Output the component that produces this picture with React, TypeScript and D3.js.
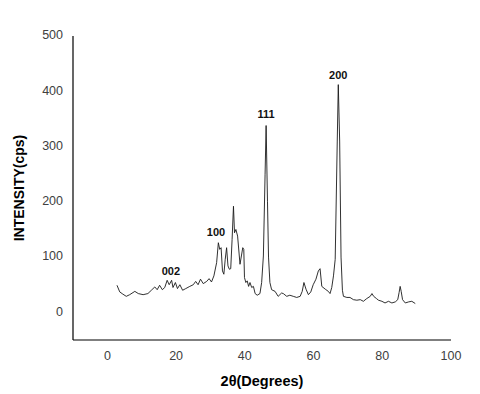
import React from "react";
import * as d3 from "d3";

// 2-theta (degrees) and intensity (cps)
const twoTheta = [
  2.8, 3.6, 4.5, 5.5, 6.5, 8, 9, 10.4, 11.8, 12.8, 13.8, 14.5, 15.2, 16, 16.7, 17.4, 18, 18.7, 19.1, 19.8,
  20.4, 21.1, 21.9, 22.8, 24, 25, 25.7, 26.4, 27.1, 27.9, 28.9, 29.6, 30.3, 31, 31.8, 32.3, 32.7, 33.1, 33.5, 33.9,
  34.3, 34.7, 35.1, 35.5, 35.9, 36.3, 36.7, 37, 37.4, 37.9, 38.6, 39, 39.4, 39.7, 39.9, 40.3, 40.7, 41.1, 41.5, 42,
  42.5, 43, 43.6, 44.4, 44.9, 45.4, 45.9, 46.2, 46.6, 46.9, 47.3, 47.8, 48.8, 49.7, 50.7, 51.2, 52.2, 53.1, 54.1, 55.1,
  56.1, 56.7, 57.2, 57.8, 58.5, 59.2, 59.9, 60.7, 61.4, 61.9, 62.4, 63.4, 64.3, 64.8, 65.3, 65.8, 66.3, 66.9, 67.2, 67.6,
  68, 68.4, 68.7, 69.7, 70.6, 71.6, 72.6, 73.6, 74.5, 75.5, 76.5, 77, 77.5, 78.3, 78.9, 79.9, 80.8, 81.8, 82.8, 83.8,
  84.5, 84.9, 85.2, 85.5, 85.9, 86.7, 87.7, 88.6, 89.6,
];
const intensity = [
  49, 37, 33, 29, 32, 38, 34, 32, 34, 40, 46, 41, 49, 41, 45, 58, 50, 58, 45, 54,
  43, 50, 40, 43, 47, 50, 56, 50, 60, 52, 56, 61, 55, 66, 90, 126, 114, 117, 75, 69,
  96, 117, 84, 78, 79, 132, 192, 144, 150, 138, 87, 102, 117, 114, 63, 54, 57, 47, 54, 45,
  47, 34, 31, 34, 54, 102, 250, 338, 200, 100, 54, 41, 38, 29, 35, 34, 29, 31, 29, 27,
  29, 38, 54, 42, 32, 37, 50, 60, 75, 79, 47, 42, 38, 34, 45, 66, 96, 310, 412, 310,
  100, 40, 29, 27, 27, 23, 22, 23, 20, 25, 29, 34, 29, 25, 22, 20, 17, 20, 17, 19,
  23, 36, 47, 38, 23, 17, 19, 20, 16,
];

const peakNames = ["002", "100", "111", "200"];
const peakX = [18.5, 31.6, 46.2, 67.2];
const peakY = [73, 143, 357, 427];

const xTicks = [0, 20, 40, 60, 80, 100];
const yTicks = [0, 100, 200, 300, 400, 500];

const App = () => {
  const W = 480;
  const H = 394;
  const x = d3.scaleLinear().domain([-10, 100]).range([73, 451]);
  const y = d3.scaleLinear().domain([-50, 500]).range([340, 36]);

  const pts = twoTheta.map((t, i) => [t, intensity[i]] as [number, number]);
  const line = d3
    .line<[number, number]>()
    .x((d) => x(d[0]))
    .y((d) => y(d[1]));

  const font = "'Liberation Sans', Arial, sans-serif";

  return (
    <svg
      width={W}
      height={H}
      style={{ position: "absolute", left: 0, top: 0, background: "#fff" }}
      fontFamily={font}
    >
      {/* axes */}
      <line x1={x(-10)} x2={x(-10)} y1={y(500)} y2={y(-50)} stroke="#000" strokeWidth={1.2} />
      <line x1={x(-10)} x2={x(100)} y1={y(-50)} y2={y(-50)} stroke="#000" strokeWidth={1.2} />

      {yTicks.map((t) => (
        <text key={"y" + t} x={63} y={y(t)} textAnchor="end" dominantBaseline="middle" fontSize={12.5} fill="#404040">
          {t}
        </text>
      ))}
      {xTicks.map((t) => (
        <text key={"x" + t} x={x(t)} y={357} textAnchor="middle" dominantBaseline="middle" fontSize={12.5} fill="#404040">
          {t}
        </text>
      ))}

      <text x={262} y={382} textAnchor="middle" dominantBaseline="middle" fontSize={14.5} fontWeight="bold" fill="#000">
        2θ(Degrees)
      </text>
      <text
        transform={`translate(20,${188}) rotate(-90)`}
        textAnchor="middle"
        dominantBaseline="middle"
        fontSize={14}
        fontWeight="bold"
        fill="#000"
      >
        INTENSITY(cps)
      </text>

      <path d={line(pts) ?? ""} fill="none" stroke="#1a1a1a" strokeWidth={0.9} strokeLinejoin="round" />

      {peakNames.map((n, i) => (
        <text
          key={n}
          x={x(peakX[i])}
          y={y(peakY[i])}
          textAnchor="middle"
          dominantBaseline="middle"
          fontSize={11}
          fontWeight="bold"
          fill="#111"
        >
          {n}
        </text>
      ))}
    </svg>
  );
};

export default App;
